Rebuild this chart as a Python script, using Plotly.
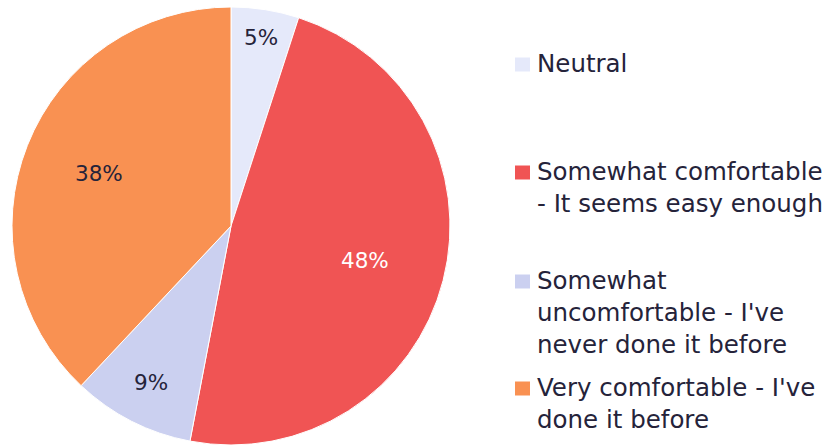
import math
import plotly.graph_objects as go

labels = ["Neutral", "Somewhat comfortable - It seems easy enough",
          "Somewhat uncomfortable - I've never done it before",
          "Very comfortable - I've done it before"]
values = [5, 48, 9, 38]
colors = ["#E5E9FA", "#F05454", "#CBD0F0", "#F99152"]
text_colors = ["#25233A", "#FFFFFF", "#25233A", "#25233A"]
legend_text = ["Neutral",
               "Somewhat comfortable<br>- It seems easy enough",
               "Somewhat<br>uncomfortable - I've<br>never done it before",
               "Very comfortable - I've<br>done it before"]
label_radius = [0.87, 0.63, 0.80, 0.65]      # label distance, fraction of radius
legend_y_px = [64.5, 172.5, 281.5, 388.5]    # centre of first legend line (px)

W, H = 837, 445
FONT = "DejaVu Sans"
DARK = "#25233A"
CX, CY, R = 231, 226, 219                     # pie centre / radius in px

fig = go.Figure(go.Pie(
    labels=labels, values=values, sort=False, direction="clockwise", rotation=0,
    marker=dict(colors=colors, line=dict(color="#FFFFFF", width=1)),
    textinfo="none",
    domain=dict(x=[(CX - R) / W, (CX + R) / W], y=[(H - CY - R) / H, (H - CY + R) / H]),
    showlegend=False, hoverinfo="label+percent",
))

annotations = []
shapes = []

# slice percentage labels, placed at each slice's mid-angle
total = sum(values)
cum = 0
for v, tc, rf in zip(values, text_colors, label_radius):
    mid = (cum + v / 2) / total * 2 * math.pi
    cum += v
    px = CX + rf * R * math.sin(mid)
    py = CY - rf * R * math.cos(mid)
    annotations.append(dict(
        x=px / W, y=1 - py / H, xref="paper", yref="paper",
        xanchor="center", yanchor="middle", showarrow=False,
        text=f"{round(100 * v / total)}%",
        font=dict(family=FONT, size=21.5, color=tc),
    ))

# legend
for txt, ypx, col in zip(legend_text, legend_y_px, colors):
    annotations.append(dict(
        x=535 / W, y=1 - (ypx - 18) / H, xref="paper", yref="paper",
        xanchor="left", yanchor="top", align="left", showarrow=False,
        text=txt, font=dict(family=FONT, size=24.5, color=DARK),
    ))
    shapes.append(dict(type="rect", xref="paper", yref="paper",
                       x0=515 / W, x1=530 / W,
                       y0=1 - (ypx + 7) / H, y1=1 - (ypx - 7) / H,
                       fillcolor=col, line=dict(width=0)))

fig.update_layout(
    width=W, height=H, margin=dict(l=0, r=0, t=0, b=0),
    paper_bgcolor="white", plot_bgcolor="white",
    annotations=annotations, shapes=shapes,
    font=dict(family=FONT, color=DARK),
)
fig.write_html("out.html", config={"displayModeBar": False},
               post_script="document.body.style.margin='0';")
